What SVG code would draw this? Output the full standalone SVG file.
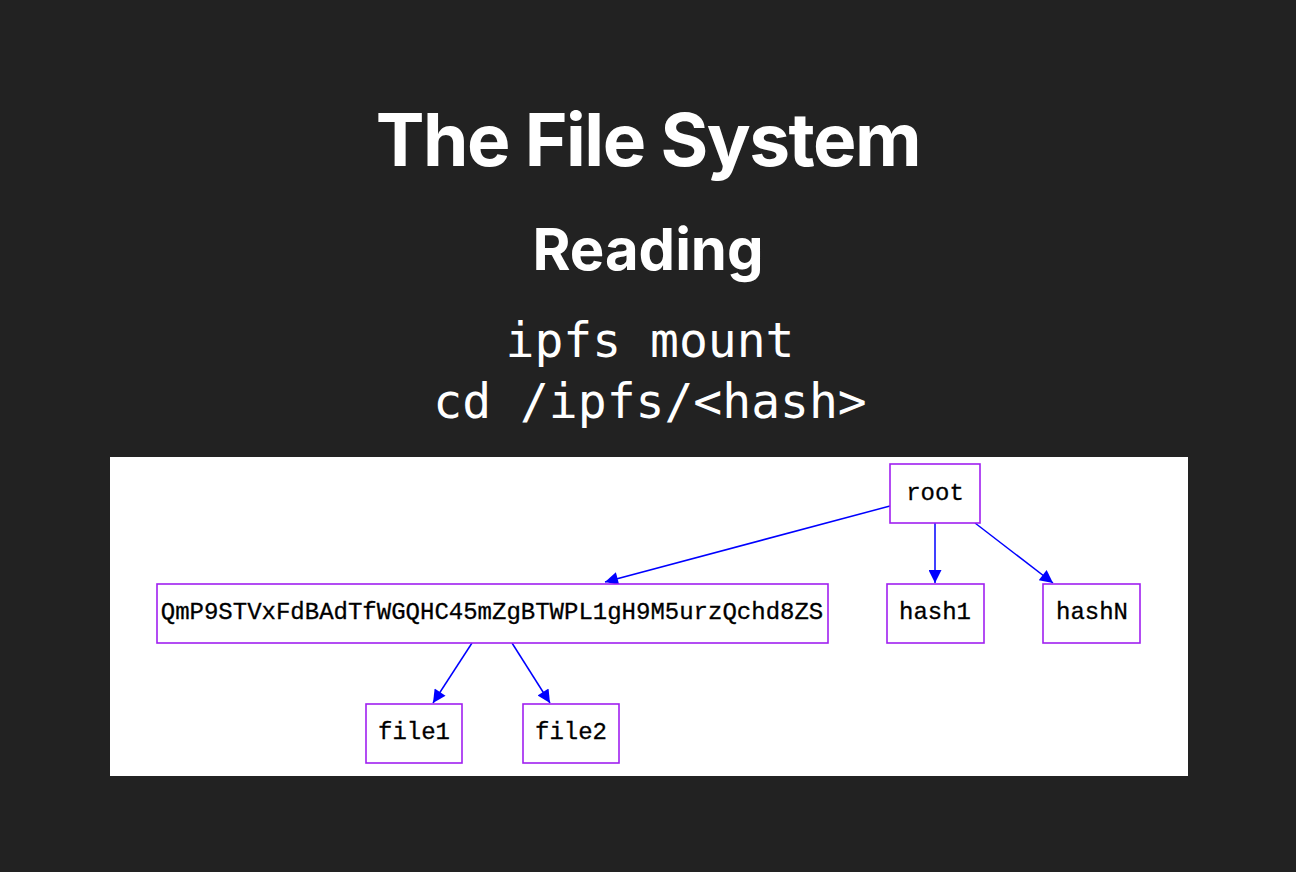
<svg xmlns="http://www.w3.org/2000/svg" width="1296" height="872" viewBox="0 0 1296 872">
  <style>
    .title { font-family: Inter, "Liberation Sans", sans-serif; font-weight: 700; fill: #ffffff; text-anchor: middle; }
    .code { font-family: "DejaVu Sans Mono", "Liberation Mono", monospace; font-size: 48px; fill: #ffffff; text-anchor: middle; }
    .node rect { fill: #ffffff; stroke: #a020f0; stroke-width: 1.6; }
    .node text { font-family: "Liberation Mono", "Courier New", monospace; font-size: 24px; fill: #000000; text-anchor: middle; stroke: #000000; stroke-width: 0.3; }
    .edges line { stroke: #0000ff; stroke-width: 1.5; marker-end: url(#arrow); }
  </style>
  <defs>
    <marker id="arrow" viewBox="0 0 10 10" refX="10" refY="5" markerUnits="userSpaceOnUse" markerWidth="17" markerHeight="13" orient="auto">
      <path d="M0,0 L10,5 L0,10 Z" fill="#0000ff"/>
    </marker>
  </defs>

  <rect x="0" y="0" width="1296" height="872" fill="#222222"/>

  <text class="title" x="648" y="166" font-size="73" letter-spacing="-1.5">The File System</text>
  <text class="title" x="648" y="270" font-size="58">Reading</text>
  <text class="code" x="650" y="357">ipfs mount</text>
  <text class="code" x="650" y="418">cd /ipfs/&lt;hash&gt;</text>

  <!-- graph canvas -->
  <rect x="110" y="457" width="1078" height="319" fill="#ffffff"/>

  <g class="edges">
    <line x1="890" y1="506" x2="605" y2="582"/>
    <line x1="935" y1="523" x2="935" y2="583"/>
    <line x1="975" y1="523" x2="1053" y2="583"/>
    <line x1="472" y1="643" x2="433" y2="703"/>
    <line x1="512" y1="643" x2="550" y2="703"/>
  </g>

  <g id="root" class="node">
    <rect x="890" y="464" width="90" height="59"/>
    <text x="935" y="500">root</text>
  </g>
  <g id="dir" class="node">
    <rect x="157" y="584" width="671" height="59"/>
    <text x="492" y="619">QmP9STVxFdBAdTfWGQHC45mZgBTWPL1gH9M5urzQchd8ZS</text>
  </g>
  <g id="hash1" class="node">
    <rect x="887" y="584" width="97" height="59"/>
    <text x="935" y="619">hash1</text>
  </g>
  <g id="hashN" class="node">
    <rect x="1043" y="584" width="97" height="59"/>
    <text x="1092" y="619">hashN</text>
  </g>
  <g id="file1" class="node">
    <rect x="366" y="704" width="96" height="59"/>
    <text x="414" y="739">file1</text>
  </g>
  <g id="file2" class="node">
    <rect x="523" y="704" width="96" height="59"/>
    <text x="571" y="739">file2</text>
  </g>
</svg>
